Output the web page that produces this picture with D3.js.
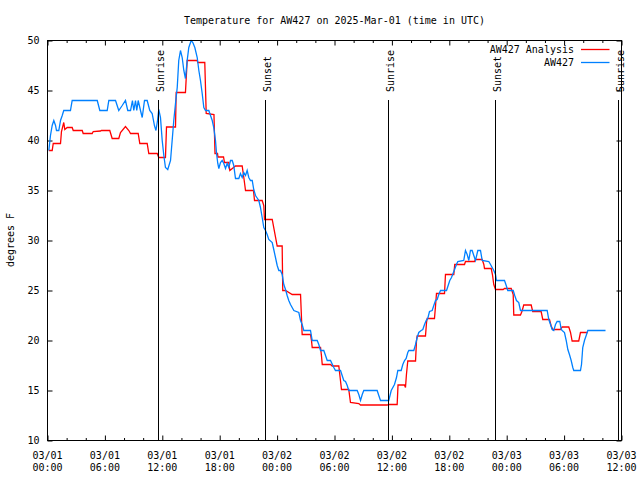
<!DOCTYPE html>
<html><head><meta charset="utf-8">
<script src="https://cdn.jsdelivr.net/npm/d3@7"></script>
<style>
html,body{margin:0;padding:0;background:#fff;}
svg text{font-family:"DejaVu Sans Mono",monospace;font-size:10px;fill:#000;}
</style></head>
<body><svg id="c" width="640" height="480"></svg>
<script>
// ---- data (hours since 2025-03-01 00:00 UTC, degrees F) ----
const titleText = "Temperature for AW427 on 2025-Mar-01 (time in UTC)";
const yLabel = "degrees F";
const seriesNames = ["AW427 Analysis", "AW427"];
const analysis = [[0.14,39],[0.49,39],[0.60,39.7],[1.36,39.7],[1.46,40.9],[1.70,41.8],[1.81,41.1],[2.06,41.3],[2.58,41.3],[2.69,41.0],[3.63,41.0],[3.73,40.7],[4.67,40.7],[4.78,40.9],[5.54,40.95],[5.64,41.0],[6.51,41.0],[6.76,40.2],[7.45,40.2],[7.63,40.8],[8.15,41.4],[8.50,41.0],[8.68,40.7],[9.48,40.7],[9.65,39.7],[10.42,39.7],[10.59,38.7],[11.47,38.7],[11.63,38.3],[12.33,38.3],[12.44,41.35],[13.38,41.35],[13.45,44.8],[14.42,44.8],[14.60,48.0],[15.65,48.0],[15.71,47.8],[16.44,47.8],[16.59,42.7],[17.40,42.6],[17.51,38.7],[17.77,38.7],[17.82,38.35],[18.40,38.35],[18.50,37.8],[18.95,37.8],[19.06,37.0],[19.65,37.45],[20.35,37.45],[20.52,36.3],[20.70,35.0],[21.53,35.0],[21.64,34.0],[22.44,34.0],[22.61,33.5],[22.68,32.1],[23.49,32.1],[24.01,29.45],[24.53,29.45],[24.59,25.0],[24.88,25.0],[25.58,24.6],[26.45,24.6],[26.62,20.6],[27.49,20.6],[27.60,19.95],[27.67,19.3],[28.54,19.3],[28.64,18.45],[28.72,17.6],[29.58,17.6],[29.76,17.45],[30.45,17.45],[30.63,15.95],[30.73,15.1],[31.49,15.1],[31.67,13.8],[32.54,13.7],[32.72,13.55],[35.51,13.55],[35.67,13.6],[36.55,13.6],[36.64,15.55],[37.31,15.55],[37.42,15.3],[37.52,16.6],[37.66,17.95],[38.47,17.95],[38.57,19.95],[38.64,20.45],[39.51,20.45],[39.62,21.8],[39.69,22.2],[40.45,22.2],[40.56,23.45],[40.66,24.7],[41.50,24.7],[41.60,26.6],[42.47,26.6],[42.57,27.6],[43.59,27.6],[43.69,27.9],[44.63,27.9],[44.74,28.1],[45.44,28.1],[45.61,27.6],[45.68,27.2],[46.38,27.2],[46.51,26.6],[46.65,25.6],[46.83,25.1],[47.63,25.1],[47.77,25.2],[48.47,25.2],[48.68,24.6],[48.74,22.55],[49.44,22.55],[49.61,22.95],[49.78,23.55],[50.56,23.55],[50.72,22.9],[51.60,22.9],[51.77,22.1],[52.47,22.1],[52.65,21.45],[52.82,21.1],[53.62,21.1],[53.80,21.35],[54.49,21.35],[54.67,20.8],[54.84,19.95],[55.53,19.95],[55.71,20.8],[56.48,20.8]];
const observed = [[0.14,39],[0.31,40.5],[0.49,41.5],[0.66,42],[0.84,41.5],[0.94,41],[1.18,41],[1.36,42],[1.54,42.5],[1.70,43],[2.40,43],[2.58,44],[5.20,44],[5.47,43],[6.24,43],[6.41,44],[7.11,44],[7.45,43],[7.81,43.5],[8.15,44],[8.39,43],[8.68,43],[8.88,44],[9.02,43],[9.20,44],[9.33,43],[9.48,44],[9.72,43],[9.90,42.3],[10.14,44],[10.42,44],[10.69,43],[10.94,42.7],[11.18,41.5],[11.34,41],[11.50,42],[11.63,43.1],[11.81,42.3],[11.99,40],[12.16,38.5],[12.33,37.3],[12.57,37.1],[12.86,38],[13.03,40],[13.20,42],[13.38,43.7],[13.56,45.3],[13.72,48],[13.90,49],[14.08,48.3],[14.25,47],[14.42,46.2],[14.60,48],[14.77,49.3],[15.02,50],[15.19,49.8],[15.40,49.3],[15.65,48.3],[15.82,47],[15.99,46],[16.17,44.7],[16.34,43.3],[16.52,43],[16.86,43],[17.04,42.5],[17.22,42],[17.38,41.3],[17.56,40],[17.67,38.7],[17.80,37.7],[17.91,37.2],[18.08,37.8],[18.26,38],[18.43,37.7],[18.61,37.2],[18.78,37.7],[18.95,37.3],[19.13,38],[19.31,38],[19.47,37.5],[19.65,36.2],[20.00,36.2],[20.17,36.7],[20.35,36.3],[20.52,36.8],[20.70,36.5],[20.87,37],[21.04,36.3],[21.22,36],[21.40,36],[21.56,35.1],[21.74,34.5],[22.09,34],[22.26,33.3],[22.44,32.3],[22.61,31.3],[22.79,31],[22.96,30.6],[23.13,30.1],[23.49,29.8],[23.65,29.1],[23.83,28.3],[24.01,27.5],[24.18,27],[24.35,27],[24.53,26.6],[24.70,25.6],[24.88,25.1],[25.05,24.5],[25.22,24],[25.40,23.6],[25.75,23],[26.27,22.8],[26.45,22],[26.62,21.6],[26.79,21],[27.49,21],[27.67,20],[28.19,20],[28.36,19.6],[28.54,19],[28.88,19],[29.06,18.5],[29.24,18],[29.58,18],[29.93,17.3],[30.10,17],[30.63,17],[30.80,16.5],[30.97,16],[31.15,15.9],[31.33,15.5],[31.49,15],[32.37,15],[32.54,14.6],[32.72,14],[32.90,14.6],[33.06,15],[34.46,15],[34.63,14.5],[34.81,14],[35.67,14],[35.93,15],[36.27,15.6],[36.48,16.3],[36.62,17],[36.97,17],[37.14,17.6],[37.32,18],[37.49,18.2],[37.66,18.8],[37.77,19],[38.29,19],[38.47,19.6],[38.64,20.3],[38.81,20.8],[39.06,21],[39.23,21.1],[39.41,21.6],[39.58,22],[39.75,22.2],[39.93,22.9],[40.21,23],[40.38,23.5],[40.56,24],[40.73,24.1],[40.90,24.6],[41.08,25],[41.71,25],[41.88,25.5],[42.05,26],[42.23,26.3],[42.47,26.9],[42.75,27.6],[42.89,27.9],[43.51,28],[43.69,29],[43.87,28.6],[44.04,28],[44.21,29],[44.39,29],[44.56,28.5],[44.74,28],[44.98,29],[45.26,29],[45.44,28],[46.13,27.9],[46.31,27.6],[46.48,27.3],[46.65,27],[46.83,26.6],[46.93,26],[47.77,26],[47.95,25.5],[48.11,25],[48.68,25],[48.84,24.5],[49.02,24],[49.26,23.8],[49.44,23],[52.23,23],[52.40,22.1],[52.58,21.6],[52.75,21.1],[52.92,21],[53.10,21.6],[53.27,21.9],[53.55,21.9],[53.70,21.1],[53.80,21],[54.04,20.8],[54.22,20],[54.39,19.1],[54.56,18.6],[54.74,18],[54.91,17.3],[55.01,17],[55.71,17],[55.82,17.6],[55.95,19.3],[56.13,20],[56.31,20.5],[56.48,21],[58.33,21]];
const sunHours = [11.60, 22.74, 35.60, 46.80, 59.65];
const sunLabels = ["Sunrise", "Sunset", "Sunrise", "Sunset", "Sunrise"];
const yTicks = [10, 15, 20, 25, 30, 35, 40, 45, 50];
const majorStepHours = 6, minorStepHours = 2, spanHours = 60;

// ---- setup ----
const start = Date.UTC(2025, 2, 1, 0, 0);
const toDate = h => new Date(start + h * 3600000);
const L = 47.5, R = 621.5, T = 40.5, B = 440.5;
const svg = d3.select("#c");
const x = d3.scaleUtc().domain([toDate(0), toDate(spanHours)]).range([L, R]);
const y = d3.scaleLinear().domain([10, 50]).range([B, T]);
const majorT = d3.range(0, spanHours + 1, majorStepHours).map(toDate);
const minorT = d3.range(0, spanHours + 1, minorStepHours).filter(h => h % majorStepHours !== 0).map(toDate);

svg.append("rect").attr("width", 640).attr("height", 480).attr("fill", "#fff");

// title
svg.append("text").attr("x", (L + R) / 2).attr("y", 24).attr("text-anchor", "middle").text(titleText);

// axes
function styleAxis(g) { g.select(".domain").remove(); g.selectAll("line").attr("stroke", "#000"); g.selectAll("text").style("font-family", "DejaVu Sans Mono").style("font-size", "10px"); }
svg.append("g").attr("transform", `translate(0,${B})`).call(d3.axisBottom(x).tickValues(majorT).tickSize(-5).tickFormat("")).call(styleAxis);
svg.append("g").attr("transform", `translate(0,${B})`).call(d3.axisBottom(x).tickValues(minorT).tickSize(-2.5).tickFormat("")).call(styleAxis);
svg.append("g").attr("transform", `translate(0,${T})`).call(d3.axisTop(x).tickValues(majorT).tickSize(-5).tickFormat("")).call(styleAxis);
svg.append("g").attr("transform", `translate(0,${T})`).call(d3.axisTop(x).tickValues(minorT).tickSize(-2.5).tickFormat("")).call(styleAxis);
svg.append("g").attr("transform", `translate(${L},0)`).call(d3.axisLeft(y).tickValues(yTicks).tickSize(-5).tickPadding(8).tickFormat(d3.format("d"))).call(styleAxis);
svg.append("g").attr("transform", `translate(${R},0)`).call(d3.axisRight(y).tickValues(yTicks).tickSize(-5).tickFormat("")).call(styleAxis);

// x tick labels (two lines)
const fDay = d3.utcFormat("%m/%d"), fTime = d3.utcFormat("%H:%M");
const xl = svg.append("g").selectAll("text").data(majorT).join("text")
  .attr("text-anchor", "middle").attr("x", d => x(d));
xl.append("tspan").attr("x", d => x(d)).attr("y", 458.5).text(fDay);
xl.append("tspan").attr("x", d => x(d)).attr("y", 470.5).text(fTime);

// y label
svg.append("text").attr("transform", "translate(14,240) rotate(-90)").attr("text-anchor", "middle").text(yLabel);

// clip
svg.append("clipPath").attr("id", "clip").append("rect").attr("x", L).attr("y", T - 1).attr("width", R - L).attr("height", B - T + 1);

const line = d3.line().x(d => x(toDate(d[0]))).y(d => y(d[1]));
const plot = svg.append("g").attr("clip-path", "url(#clip)");
plot.append("path").datum(analysis).attr("d", line).attr("fill", "none").attr("stroke", "#ff0000").attr("stroke-width", 1.3);
plot.append("path").datum(observed).attr("d", line).attr("fill", "none").attr("stroke", "#0080ff").attr("stroke-width", 1.3);

// sunrise / sunset markers
const sun = svg.append("g");
sunHours.forEach((h, i) => {
  const sx = Math.floor(x(toDate(h))) + 0.5;
  sun.append("line").attr("x1", sx).attr("x2", sx).attr("y1", B).attr("y2", y(44.05))
    .attr("stroke", "#000").attr("stroke-width", 1);
  sun.append("text").attr("transform", `translate(${sx + 5},${y(44.85)}) rotate(-90)`).text(sunLabels[i]);
});

// frame
svg.append("rect").attr("x", L).attr("y", T).attr("width", R - L).attr("height", B - T)
  .attr("fill", "none").attr("stroke", "#000").attr("stroke-width", 1);

// legend
const legColors = ["#ff0000", "#0080ff"];
seriesNames.forEach((n, i) => {
  const ly = 49.5 + i * 13;
  svg.append("text").attr("x", 574).attr("y", ly + 3.6).attr("text-anchor", "end").text(n);
  svg.append("line").attr("x1", 581).attr("x2", 609.5).attr("y1", ly).attr("y2", ly)
    .attr("stroke", legColors[i]).attr("stroke-width", 1.3);
});
</script></body></html>
